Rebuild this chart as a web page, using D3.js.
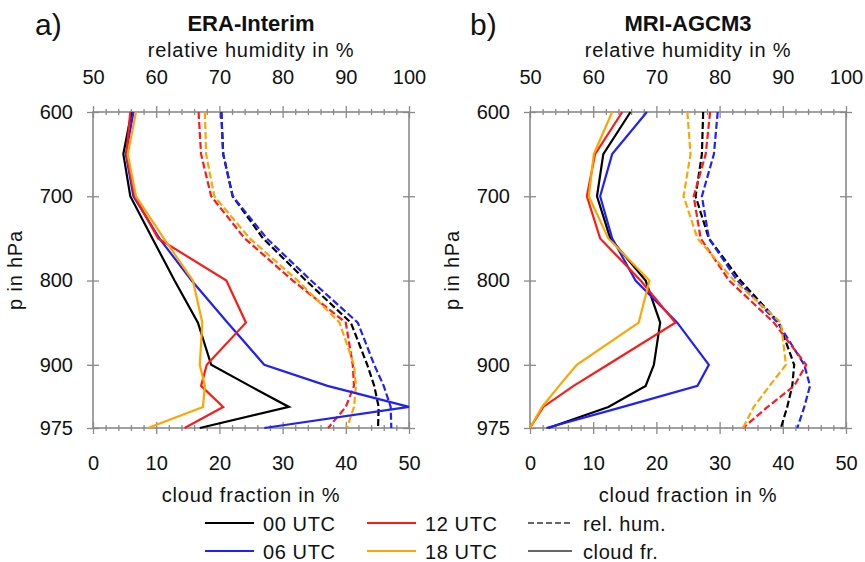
<!DOCTYPE html>
<html>
<head>
<meta charset="utf-8">
<script src="https://d3js.org/d3.v7.min.js"></script>
<style>
  body { margin: 0; background: #fff; }
  text { font-family: "Liberation Sans", Arial, sans-serif; fill: #111; }
</style>
</head>
<body>
<div id="chart"></div>
<script>

// pressure levels (hPa)
var levels = [600, 650, 700, 750, 800, 850, 900, 925, 950, 975];
var hours = ["00 UTC", "06 UTC", "12 UTC", "18 UTC"];
var colors = ["#000000", "#2020ff", "#ff1a1a", "#ffa500"];

// a) ERA-Interim, cloud fraction in %
var cfA00 = [6.1, 4.8, 5.9, 9.4, 12.9, 16.6, 18.7, 24.8, 31.0, 16.9];
var cfA06 = [6.4, 5.2, 6.4, 10.5, 15.6, 21.3, 27.1, 37.1, 50.0, 27.1];
var cfA12 = [5.9, 5.3, 6.6, 10.3, 21.1, 24.2, 18.0, 17.1, 20.6, 14.5];
var cfA18 = [6.8, 5.5, 6.8, 11.2, 15.8, 17.3, 16.9, 17.7, 17.4, 8.7];
// a) ERA-Interim, relative humidity in %
var rhA00 = [70.3, 70.6, 72.1, 76.9, 83.7, 90.8, 93.4, 94.5, 95.2, 95.1];
var rhA06 = [70.3, 70.6, 72.1, 77.5, 84.5, 91.9, 94.5, 96.0, 97.1, 97.2];
var rhA12 = [66.7, 67.1, 68.7, 74.0, 81.6, 90.0, 91.1, 91.3, 90.0, 87.2];
var rhA18 = [67.7, 67.9, 69.2, 74.8, 82.4, 89.0, 91.3, 91.6, 91.3, 90.2];

// b) MRI-AGCM3, cloud fraction in %
var cfB00 = [15.9, 11.6, 10.6, 12.7, 18.3, 20.6, 19.6, 18.3, 12.4, 2.9];
var cfB06 = [18.5, 13.0, 11.1, 13.0, 16.7, 23.3, 28.3, 26.5, 14.7, 2.6];
var cfB12 = [14.6, 10.3, 9.0, 11.1, 17.5, 23.0, 12.3, 6.9, 2.1, 0];
var cfB18 = [13.0, 10.1, 9.3, 12.4, 18.9, 17.2, 7.4, 4.6, 1.9, 0];
// b) MRI-AGCM3, relative humidity in %
var rhB00 = [77.4, 77.2, 76.2, 78.3, 83.3, 89.4, 91.8, 91.5, 90.7, 89.7];
var rhB06 = [79.7, 79.1, 77.2, 78.3, 82.8, 89.2, 93.4, 94.3, 93.4, 92.3];
var rhB12 = [78.5, 77.8, 75.9, 77.0, 81.5, 88.6, 93.7, 91.8, 87.6, 83.7];
var rhB18 = [74.9, 75.4, 74.3, 76.5, 82.3, 89.7, 90.5, 87.9, 85.4, 83.7];

var pTicks = [600, 700, 800, 900, 975];
var cfTicks = [0, 10, 20, 30, 40, 50];
var rhTicks = [50, 60, 70, 80, 90, 100];

var panels = [
  { left: 93, tag: "a)", tagX: 35, title: "ERA-Interim",
    cf: [cfA00, cfA06, cfA12, cfA18], rh: [rhA00, rhA06, rhA12, rhA18] },
  { left: 530, tag: "b)", tagX: 470, title: "MRI-AGCM3",
    cf: [cfB00, cfB06, cfB12, cfB18], rh: [rhB00, rhB06, rhB12, rhB18] }
];

var plotTop = 112, plotH = 316, plotW = 316;
var frameColor = "#8a8a8a";

var svg = d3.select("#chart")
  .append("svg")
    .attr("width", 865)
    .attr("height", 562);

var y = d3.scaleLinear().domain([600, 975]).range([plotTop, plotTop + plotH]);

function crossTicks(g, size) {
  g.select(".domain").remove();
  g.selectAll(".tick line").attr("stroke", frameColor).attr("stroke-width", 1.3);
  return g;
}

panels.forEach(function(p, i) {
  var g = svg.append("g");
  var x = d3.scaleLinear().domain([0, 50]).range([p.left, p.left + plotW]);
  var xr = d3.scaleLinear().domain([50, 100]).range([p.left, p.left + plotW]);
  var cx = p.left + plotW / 2;

  // frame
  g.append("rect")
    .attr("x", p.left).attr("y", plotTop)
    .attr("width", plotW).attr("height", plotH)
    .attr("fill", "none")
    .attr("stroke", frameColor)
    .attr("stroke-width", 1.6);

  var minorCf = d3.range(0, 51, 2).filter(function(v) { return v % 10 != 0; });
  var minorRh = d3.range(50, 101, 2).filter(function(v) { return v % 10 != 0; });

  // bottom axis (cloud fraction)
  var bot = g.append("g").attr("transform", "translate(0," + (plotTop + plotH) + ")")
    .call(d3.axisBottom(x).tickValues(cfTicks).tickSize(6).tickPadding(22).tickFormat(d3.format("d")));
  crossTicks(bot).selectAll(".tick line").attr("y1", -6);
  bot.selectAll("text").style("font-size", "20px").style("font-family", "Liberation Sans, Arial, sans-serif").attr("fill", "#111");
  var botMinor = g.append("g").attr("transform", "translate(0," + (plotTop + plotH) + ")")
    .call(d3.axisBottom(x).tickValues(minorCf).tickSize(3).tickFormat(""));
  crossTicks(botMinor).selectAll(".tick line").attr("y1", -3);

  // top axis (relative humidity)
  var topAx = g.append("g").attr("transform", "translate(0," + plotTop + ")")
    .call(d3.axisTop(xr).tickValues(rhTicks).tickSize(6).tickPadding(22).tickFormat(d3.format("d")));
  crossTicks(topAx).selectAll(".tick line").attr("y1", 6);
  topAx.selectAll("text").style("font-size", "20px").style("font-family", "Liberation Sans, Arial, sans-serif").attr("fill", "#111");
  var topMinor = g.append("g").attr("transform", "translate(0," + plotTop + ")")
    .call(d3.axisTop(xr).tickValues(minorRh).tickSize(3).tickFormat(""));
  crossTicks(topMinor).selectAll(".tick line").attr("y1", 3);

  // left axis (pressure)
  var leftAx = g.append("g").attr("transform", "translate(" + p.left + ",0)")
    .call(d3.axisLeft(y).tickValues(pTicks).tickSize(6).tickPadding(14));
  crossTicks(leftAx).selectAll(".tick line").attr("x1", 6);
  leftAx.selectAll("text").style("font-size", "20px").style("font-family", "Liberation Sans, Arial, sans-serif").attr("fill", "#111");

  // right axis, ticks only
  var rightAx = g.append("g").attr("transform", "translate(" + (p.left + plotW) + ",0)")
    .call(d3.axisRight(y).tickValues(pTicks).tickSize(6).tickFormat(""));
  crossTicks(rightAx).selectAll(".tick line").attr("x1", -6);

  // relative humidity profiles (dashed)
  p.rh.forEach(function(vals, k) {
    var line = d3.line()
      .x(function(d, j) { return xr(d); })
      .y(function(d, j) { return y(levels[j]); });
    g.append("path")
      .datum(vals)
      .attr("d", line)
      .attr("fill", "none")
      .attr("stroke", colors[k])
      .attr("stroke-width", 2.2)
      .attr("stroke-dasharray", "7,3");
  });

  // cloud fraction profiles (solid)
  p.cf.forEach(function(vals, k) {
    var line = d3.line()
      .x(function(d, j) { return x(d); })
      .y(function(d, j) { return y(levels[j]); });
    g.append("path")
      .datum(vals)
      .attr("d", line)
      .attr("fill", "none")
      .attr("stroke", colors[k])
      .attr("stroke-width", 2.2);
  });

  // labels
  g.append("text").attr("x", p.tagX).attr("y", 35)
    .style("font-size", "30px").text(p.tag);
  g.append("text").attr("x", cx).attr("y", 31)
    .attr("text-anchor", "middle")
    .style("font-size", "22px").style("font-weight", "bold")
    .text(p.title);
  g.append("text").attr("x", cx).attr("y", 57)
    .attr("text-anchor", "middle")
    .style("font-size", "20px").style("letter-spacing", "0.8px")
    .text("relative humidity in %");
  g.append("text").attr("x", cx).attr("y", 502)
    .attr("text-anchor", "middle")
    .style("font-size", "20px").style("letter-spacing", "0.8px")
    .text("cloud fraction in %");
  g.append("text")
    .attr("transform", "translate(" + (p.left - 71) + "," + (plotTop + plotH / 2) + ") rotate(-90)")
    .attr("text-anchor", "middle")
    .style("font-size", "20px").style("letter-spacing", "0.8px")
    .text("p in hPa");
});

// legend
var legend = svg.append("g").attr("class", "legend");
var legX = [205, 367], legRows = [523, 551];
hours.forEach(function(h, k) {
  var col = Math.floor(k / 2), row = k % 2;
  legend.append("line")
    .attr("x1", legX[col]).attr("x2", legX[col] + 49)
    .attr("y1", legRows[row]).attr("y2", legRows[row])
    .attr("stroke", colors[k]).attr("stroke-width", 2);
  legend.append("text")
    .attr("x", legX[col] + 58).attr("y", legRows[row] + 8)
    .style("font-size", "20px").style("letter-spacing", "0.6px")
    .text(h);
});
var styles = [{name: "rel. hum.", dash: "6,3"}, {name: "cloud fr.", dash: null}];
styles.forEach(function(s, row) {
  legend.append("line")
    .attr("x1", 528).attr("x2", 572)
    .attr("y1", legRows[row]).attr("y2", legRows[row])
    .attr("stroke", "#666").attr("stroke-width", 2)
    .attr("stroke-dasharray", s.dash);
  legend.append("text")
    .attr("x", 583).attr("y", legRows[row] + 8)
    .style("font-size", "20px").style("letter-spacing", "0.6px")
    .text(s.name);
});

</script>
</body>
</html>
